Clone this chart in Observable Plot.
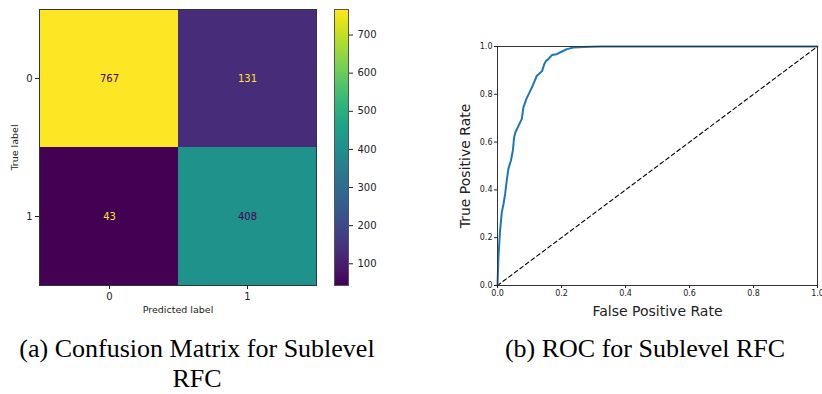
<!DOCTYPE html>
<html>
<head>
<meta charset="utf-8">
<script src="https://cdn.jsdelivr.net/npm/d3@7"></script>
<script src="https://cdn.jsdelivr.net/npm/@observablehq/plot@0.6"></script>
<style>
  html, body { margin: 0; padding: 0; background: #fff; }
  body { width: 822px; height: 394px; position: relative; overflow: hidden; font-family: "DejaVu Sans", sans-serif; }
  .panel { position: absolute; top: 0; }
  .cap { position: absolute; font-family: "Liberation Serif", "Times New Roman", serif; font-size: 26px; line-height: 30px; text-align: center; color: #000; white-space: nowrap; }
</style>
</head>
<body>
<div id="cm" class="panel" style="left:0px"></div>
<div id="cb" class="panel" style="left:320px"></div>
<div id="roc" class="panel" style="left:440px"></div>
<div class="cap" style="left:7px; width:380px; top:334px;">(a) Confusion Matrix for Sublevel<br>RFC</div>
<div class="cap" style="left:455px; width:380px; top:334px;">(b) ROC for Sublevel RFC</div>
<script>
// ---- Confusion matrix data ----
const trueLabels = ["0", "0", "1", "1"];
const predLabels = ["0", "1", "0", "1"];
const counts = [767, 131, 43, 408];
const colorTicks = [100, 200, 300, 400, 500, 600, 700];

// ---- ROC data ----
const fpr = [0, 0.003, 0.008, 0.0135, 0.019, 0.024, 0.029, 0.034, 0.042, 0.048, 0.052, 0.056, 0.066, 0.076, 0.081, 0.090, 0.100, 0.110, 0.123, 0.139, 0.146, 0.152, 0.159, 0.170, 0.185, 0.200, 0.217, 0.237, 0.269, 0.320, 1.0];
const tpr = [0, 0.12, 0.23, 0.307, 0.342, 0.384, 0.44, 0.488, 0.523, 0.565, 0.62, 0.641, 0.669, 0.697, 0.745, 0.78, 0.808, 0.836, 0.878, 0.896, 0.926, 0.94, 0.947, 0.964, 0.968, 0.978, 0.989, 0.996, 0.998, 1.0, 1.0];
const diagX = [0, 1];
const diagY = [0, 1];
const rocTicks = [0, 0.2, 0.4, 0.6, 0.8, 1.0];

const cmDomain = [d3.min(counts), d3.max(counts)];
const cmData = counts.map((v, i) => ({t: trueLabels[i], p: predLabels[i], v}));
const lo = d3.interpolateViridis(0), hi = d3.interpolateViridis(1);

const cm = Plot.plot({
  width: 330, height: 320,
  marginLeft: 39, marginRight: 14, marginTop: 9, marginBottom: 35,
  style: {fontFamily: "DejaVu Sans, sans-serif", fontSize: "10px", color: "#222", overflow: "visible"},
  x: {type: "band", domain: ["0", "1"], padding: 0, label: null},
  y: {type: "band", domain: ["0", "1"], padding: 0, label: null},
  color: {type: "linear", scheme: "viridis", domain: cmDomain},
  marks: [
    Plot.cell(cmData, {x: "p", y: "t", fill: "v", inset: 0}),
    Plot.text(cmData, {x: "p", y: "t", text: d => String(d.v), fill: d => (d.v > (cmDomain[0] + cmDomain[1]) / 2 ? lo : hi), fontSize: 10}),
    Plot.frame({stroke: "#333", strokeWidth: 1}),
    Plot.axisX({anchor: "bottom", tickSize: 4, tickPadding: 3, fontSize: 10, label: null}),
    Plot.axisY({anchor: "left", tickSize: 4, tickPadding: 3, fontSize: 10, label: null}),
    Plot.text(["Predicted label"], {frameAnchor: "bottom", dy: 27, fontSize: 9.5, fill: "#222"}),
    Plot.text(["True label"], {frameAnchor: "left", dx: -25, rotate: -90, textAnchor: "middle", fontSize: 9.5, fill: "#222"})
  ]
});
document.getElementById("cm").appendChild(cm);

const cb = Plot.plot({
  width: 80, height: 320,
  marginLeft: 14, marginRight: 52, marginTop: 9, marginBottom: 35,
  style: {fontFamily: "DejaVu Sans, sans-serif", fontSize: "10px", color: "#222"},
  x: {domain: [0, 1], axis: null},
  y: {domain: cmDomain, label: null},
  color: {type: "linear", scheme: "viridis", domain: cmDomain},
  marks: [
    Plot.raster({fill: (x, y) => y, x1: 0, x2: 1, y1: cmDomain[0], y2: cmDomain[1], width: 1, height: 300, imageRendering: "auto"}),
    Plot.frame({stroke: "#555", strokeWidth: 1}),
    Plot.axisY(colorTicks, {anchor: "right", tickSize: 4, fontSize: 10, label: null})
  ]
});
document.getElementById("cb").appendChild(cb);

const roc = Plot.plot({
  width: 382, height: 320,
  marginLeft: 57, marginRight: 5, marginTop: 46, marginBottom: 35,
  style: {fontFamily: "DejaVu Sans, sans-serif", fontSize: "8px", color: "#222"},
  x: {domain: [0, 1], label: null},
  y: {domain: [0, 1], label: null},
  marks: [
    Plot.line(diagX.map((x, i) => [x, diagY[i]]), {x: d => d[0], y: d => d[1], stroke: "#000", strokeWidth: 1.1, strokeDasharray: "4,3"}),
    Plot.line(fpr.map((x, i) => [x, tpr[i]]), {x: d => d[0], y: d => d[1], stroke: "#1f77b4", strokeWidth: 2}),
    Plot.frame({stroke: "#333", strokeWidth: 1}),
    Plot.axisX(rocTicks, {anchor: "bottom", tickSize: 3, tickPadding: 2, tickFormat: ".1f", fontSize: 8, label: null}),
    Plot.axisY(rocTicks, {anchor: "left", tickSize: 3, tickPadding: 2, tickFormat: ".1f", fontSize: 8, label: null}),
    Plot.text(["False Positive Rate"], {frameAnchor: "bottom", dy: 30, fontSize: 14, fill: "#222"}),
    Plot.text(["True Positive Rate"], {frameAnchor: "left", dx: -32, rotate: -90, textAnchor: "middle", fontSize: 14, fill: "#222"})
  ]
});
document.getElementById("roc").appendChild(roc);
</script>
</body>
</html>
